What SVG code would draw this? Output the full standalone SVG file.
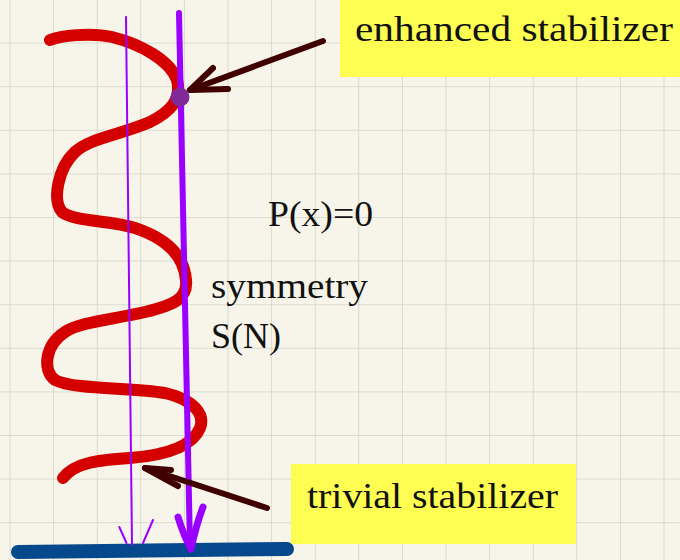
<svg xmlns="http://www.w3.org/2000/svg" width="680" height="560" viewBox="0 0 680 560">
  <defs>
    <pattern id="grid" x="9.5" y="-1" width="43.6" height="43.6" patternUnits="userSpaceOnUse">
      <path d="M0,0 H43.6 M0,0 V43.6" fill="none" stroke="#d3d3c7" stroke-width="1.6"/>
    </pattern>
  </defs>
  <style>
    .lbl { font-family: "Liberation Serif", "Times New Roman", serif; font-size: 36px; fill: #111111; }
    .box { fill: #fefe52; }
    .ptr { fill: none; stroke: #400000; stroke-width: 6; stroke-linecap: round; stroke-linejoin: round; }
    .purple { fill: none; stroke: #9a00ff; stroke-linecap: round; stroke-linejoin: round; }
  </style>
  <rect width="680" height="560" fill="#f7f5ea"/>
  <rect width="680" height="560" fill="url(#grid)"/>

  <g id="helix">
    <path d="M50,40 C60,36 90,32 112,37 C140,44 170,60 177,80 C182,100 170,112 150,122 C120,135 90,138 75,152 C58,168 52,200 62,212 C75,222 110,220 135,228 C165,238 184,255 186,280 C188,298 175,305 145,312 C110,320 80,322 65,332 C45,345 42,370 55,380 C75,390 130,387 165,393 C195,400 205,415 200,428 C193,445 170,455 130,458 C100,460 75,462 63,478" fill="none" stroke="#d40000" stroke-width="12" stroke-linecap="round" stroke-linejoin="round"/>
  </g>

  <g id="baseline">
    <path d="M18,552 L287,549" fill="none" stroke="#05488c" stroke-width="14" stroke-linecap="round"/>
  </g>

  <g id="connectors">
    <g id="thin-arrow">
      <path class="purple" d="M126,17 L132,545" stroke-width="2"/>
      <path class="purple" d="M119.3,527 L126.5,543 M153,520 L143,543" stroke-width="2"/>
    </g>
    <g id="thick-arrow">
      <path class="purple" d="M179,13 L190,548" stroke-width="6"/>
      <path class="purple" d="M178,517 C182,530 186,540 191,549 C194,535 198,520 203,507" stroke-width="7"/>
    </g>
    <g id="enhanced-pointer">
      <path class="ptr" d="M323,41 L190,90"/>
      <path class="ptr" d="M213,68 L190,90 L228,89"/>
    </g>
    <g id="trivial-pointer">
      <path class="ptr" d="M267,508 L145,468"/>
      <path class="ptr" d="M171,470 L145,468 L178,486"/>
    </g>
  </g>

  <g id="enhanced-point">
    <circle cx="180" cy="97" r="9.5" fill="#82299a"/>
  </g>

  <g id="enhanced-stabilizer">
    <rect class="box" x="340" y="0" width="340" height="77"/>
    <text class="lbl" x="355" y="41" textLength="318" lengthAdjust="spacingAndGlyphs">enhanced stabilizer</text>
  </g>

  <g id="trivial-stabilizer">
    <rect class="box" x="291" y="464" width="285" height="80"/>
    <text class="lbl" x="307" y="508" textLength="251" lengthAdjust="spacingAndGlyphs">trivial stabilizer</text>
  </g>

  <g id="condition">
    <text class="lbl" x="268" y="226" textLength="105" lengthAdjust="spacingAndGlyphs">P(x)=0</text>
  </g>

  <g id="symmetry">
    <text class="lbl" x="211" y="298" textLength="157" lengthAdjust="spacingAndGlyphs">symmetry</text>
    <text class="lbl" x="211" y="348">S(N)</text>
  </g>
</svg>
